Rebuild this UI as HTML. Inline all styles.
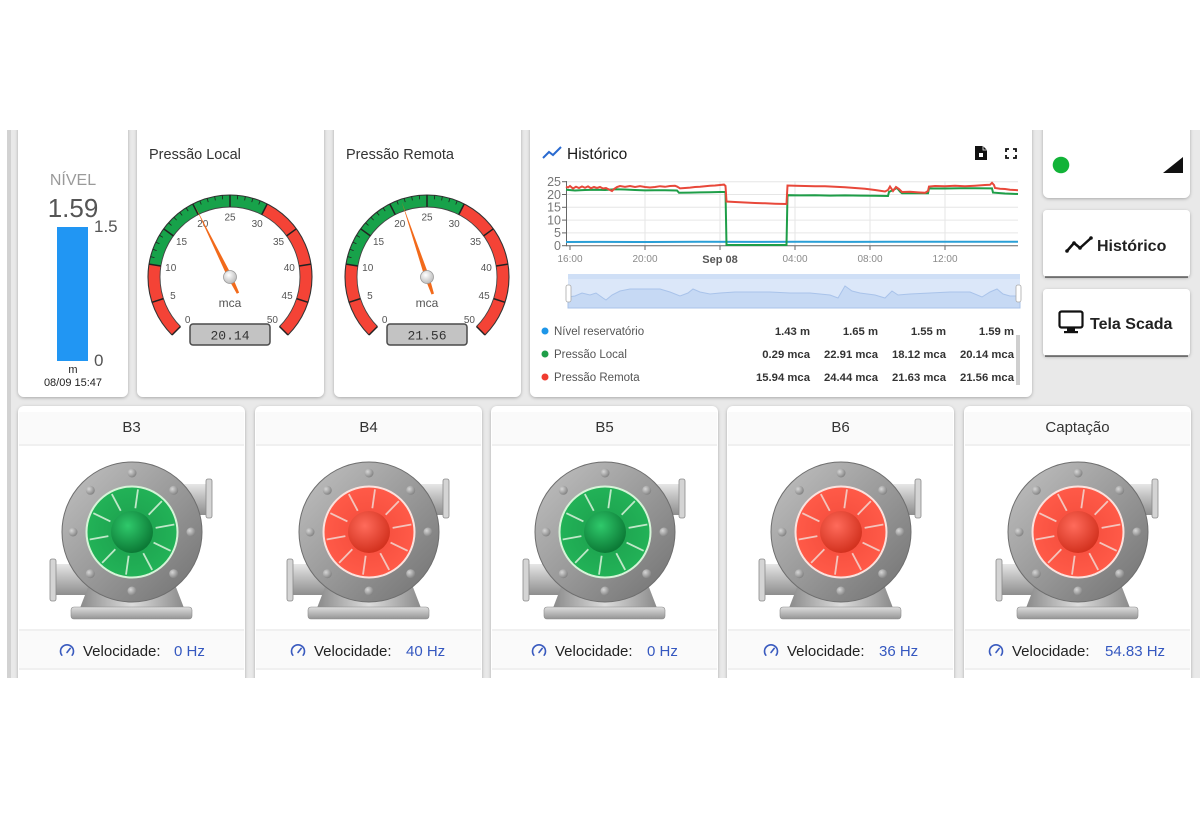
<!DOCTYPE html>
<html><head><meta charset="utf-8"><style>
html,body{margin:0;padding:0;background:#fff;width:1200px;height:815px;overflow:hidden}
svg{display:block;font-family:"Liberation Sans",sans-serif}
</style></head><body>
<svg width="1200" height="815" viewBox="0 0 1200 815" xmlns="http://www.w3.org/2000/svg">
<defs>
<filter id="sh" x="-10%" y="-10%" width="120%" height="120%"><feDropShadow dx="0" dy="1" stdDeviation="1.6" flood-color="#000" flood-opacity="0.28"/></filter>
<linearGradient id="ring" x1="0" y1="0" x2="1" y2="1"><stop offset="0" stop-color="#c2c2c2"/><stop offset="0.5" stop-color="#9a9a9a"/><stop offset="1" stop-color="#707070"/></linearGradient>
<linearGradient id="pipeH" x1="0" y1="0" x2="0" y2="1"><stop offset="0" stop-color="#e6e6e6"/><stop offset="0.45" stop-color="#bdbdbd"/><stop offset="1" stop-color="#8e8e8e"/></linearGradient>
<linearGradient id="ped" x1="0" y1="0" x2="1" y2="0"><stop offset="0" stop-color="#8a8a8a"/><stop offset="0.5" stop-color="#dcdcdc"/><stop offset="1" stop-color="#8a8a8a"/></linearGradient>
<linearGradient id="base" x1="0" y1="0" x2="0" y2="1"><stop offset="0" stop-color="#dedede"/><stop offset="1" stop-color="#949494"/></linearGradient>
<radialGradient id="bolt" cx="0.35" cy="0.35" r="0.7"><stop offset="0" stop-color="#d6d6d6"/><stop offset="1" stop-color="#808080"/></radialGradient>
<radialGradient id="gIn" cx="0.5" cy="0.5" r="0.5"><stop offset="0" stop-color="#1c9e4d"/><stop offset="1" stop-color="#22b257"/></radialGradient>
<radialGradient id="gHub" cx="0.4" cy="0.35" r="0.65"><stop offset="0" stop-color="#2fc96b"/><stop offset="1" stop-color="#0c7a36"/></radialGradient>
<radialGradient id="rIn" cx="0.5" cy="0.5" r="0.5"><stop offset="0" stop-color="#f24a3a"/><stop offset="1" stop-color="#ff5a48"/></radialGradient>
<radialGradient id="rHub" cx="0.4" cy="0.35" r="0.65"><stop offset="0" stop-color="#ff6b5b"/><stop offset="1" stop-color="#d3321f"/></radialGradient>
<radialGradient id="hub" cx="0.4" cy="0.35" r="0.7"><stop offset="0" stop-color="#ffffff"/><stop offset="1" stop-color="#b8b8b8"/></radialGradient>

<g id="pumpBody">
  <rect x="-78" y="32" width="44" height="31" fill="url(#pipeH)"/>
  <rect x="-82" y="27" width="6" height="42" rx="2" fill="#d4d4d4" stroke="#8a8a8a" stroke-width="0.8"/>
  <rect x="36" y="-48" width="40" height="31" fill="url(#pipeH)"/>
  <rect x="74" y="-53" width="6" height="39" rx="2" fill="#d4d4d4" stroke="#8a8a8a" stroke-width="0.8"/>
  <path d="M-42,50 L42,50 L52,76 L-52,76 Z" fill="url(#ped)"/>
  <rect x="-61" y="75" width="121" height="12" rx="3" fill="url(#base)" stroke="#8c8c8c" stroke-width="0.6"/>
  <circle r="70" fill="url(#ring)" stroke="#6e6e6e" stroke-width="1"/>
  <circle cx="0" cy="-59" r="4.5" fill="url(#bolt)"/>
  <circle cx="41.7" cy="-41.7" r="4.5" fill="url(#bolt)"/>
  <circle cx="59" cy="0" r="4.5" fill="url(#bolt)"/>
  <circle cx="41.7" cy="41.7" r="4.5" fill="url(#bolt)"/>
  <circle cx="0" cy="59" r="4.5" fill="url(#bolt)"/>
  <circle cx="-41.7" cy="41.7" r="4.5" fill="url(#bolt)"/>
  <circle cx="-59" cy="0" r="4.5" fill="url(#bolt)"/>
  <circle cx="-41.7" cy="-41.7" r="4.5" fill="url(#bolt)"/>
</g>
<g id="blades">
  <line x1="0" y1="-24" x2="0" y2="-43" transform="rotate(8)"/>
  <line x1="0" y1="-24" x2="0" y2="-43" transform="rotate(44)"/>
  <line x1="0" y1="-24" x2="0" y2="-43" transform="rotate(80)"/>
  <line x1="0" y1="-24" x2="0" y2="-43" transform="rotate(116)"/>
  <line x1="0" y1="-24" x2="0" y2="-43" transform="rotate(152)"/>
  <line x1="0" y1="-24" x2="0" y2="-43" transform="rotate(188)"/>
  <line x1="0" y1="-24" x2="0" y2="-43" transform="rotate(224)"/>
  <line x1="0" y1="-24" x2="0" y2="-43" transform="rotate(260)"/>
  <line x1="0" y1="-24" x2="0" y2="-43" transform="rotate(296)"/>
  <line x1="0" y1="-24" x2="0" y2="-43" transform="rotate(332)"/>
</g>
<g id="innerG">
  <circle r="46.5" fill="#d6f4d8"/>
  <circle r="44.5" fill="url(#gIn)"/>
  <g stroke="#bfe8c8" stroke-width="1.8"><use href="#blades"/></g>
  <circle r="21" fill="url(#gHub)"/>
</g>
<g id="innerR">
  <circle r="46.5" fill="#fbe2de"/>
  <circle r="44.5" fill="url(#rIn)"/>
  <g stroke="#f4c4bc" stroke-width="1.8"><use href="#blades"/></g>
  <circle r="21" fill="url(#rHub)"/>
</g>
<g id="speedIco" fill="none" stroke="#3a5bbf" stroke-width="1.6" stroke-linecap="round">
  <path d="M-5.2,4.2 A6.5,6.5 0 1 1 5.2,4.2"/>
  <line x1="0" y1="1.5" x2="3.2" y2="-2.6"/>
</g>
<g id="gaugeBase">
  <circle r="76" fill="none" stroke="#f44336" stroke-width="12" stroke-dasharray="71.62 1000" transform="rotate(135)"/>
  <circle r="76" fill="none" stroke="#17a24a" stroke-width="12" stroke-dasharray="143.25 1000" transform="rotate(189)"/>
  <circle r="76" fill="none" stroke="#f44336" stroke-width="12" stroke-dasharray="143.25 1000" transform="rotate(297)"/>
  <circle r="82" fill="none" stroke="#333" stroke-width="1.1" stroke-dasharray="386.4 1000" transform="rotate(135)"/>
  <circle r="70" fill="none" stroke="#444" stroke-width="0.9" stroke-dasharray="329.9 1000" transform="rotate(135)"/>
  <g stroke="#222" stroke-width="1.5">
    <line y1="-70" y2="-82" transform="rotate(-135)"/><line y1="-70" y2="-82" transform="rotate(-108)"/>
    <line y1="-70" y2="-82" transform="rotate(-81)"/><line y1="-70" y2="-82" transform="rotate(-54)"/>
    <line y1="-70" y2="-82" transform="rotate(-27)"/><line y1="-70" y2="-82" transform="rotate(0)"/>
    <line y1="-70" y2="-82" transform="rotate(27)"/><line y1="-70" y2="-82" transform="rotate(54)"/>
    <line y1="-70" y2="-82" transform="rotate(81)"/><line y1="-70" y2="-82" transform="rotate(108)"/>
    <line y1="-70" y2="-82" transform="rotate(135)"/>
  </g>
  <g stroke="#222" stroke-width="0.8">
    <line y1="-78" y2="-82" transform="rotate(-75.6)"/><line y1="-78" y2="-82" transform="rotate(-70.2)"/>
    <line y1="-78" y2="-82" transform="rotate(-64.8)"/><line y1="-78" y2="-82" transform="rotate(-59.4)"/>
    <line y1="-78" y2="-82" transform="rotate(-48.6)"/><line y1="-78" y2="-82" transform="rotate(-43.2)"/>
    <line y1="-78" y2="-82" transform="rotate(-37.8)"/><line y1="-78" y2="-82" transform="rotate(-32.4)"/>
    <line y1="-78" y2="-82" transform="rotate(-21.6)"/><line y1="-78" y2="-82" transform="rotate(-16.2)"/>
    <line y1="-78" y2="-82" transform="rotate(-10.8)"/><line y1="-78" y2="-82" transform="rotate(-5.4)"/>
    <line y1="-78" y2="-82" transform="rotate(5.4)"/><line y1="-78" y2="-82" transform="rotate(10.8)"/>
    <line y1="-78" y2="-82" transform="rotate(16.2)"/><line y1="-78" y2="-82" transform="rotate(21.6)"/>
  </g>
  <rect x="-40" y="47" width="80" height="21" rx="3" fill="#c3c3c3" stroke="#4a4a4a" stroke-width="1.5"/>
</g>
</defs>

<!-- background -->
<rect x="0" y="0" width="1200" height="815" fill="#ffffff"/>
<rect x="8" y="128" width="1192" height="552" fill="#e9e9e9"/>
<rect x="7" y="128" width="4" height="550" fill="#d2d2d2"/>

<!-- top row cards -->
<g filter="url(#sh)" fill="#fff">
  <rect x="18" y="118" width="110" height="279" rx="6"/>
  <rect x="137" y="118" width="187" height="279" rx="6"/>
  <rect x="334" y="118" width="187" height="279" rx="6"/>
  <rect x="530" y="118" width="502" height="279" rx="6"/>
  <rect x="1043" y="118" width="147" height="80" rx="6"/>
  <rect x="1043" y="210" width="147" height="67" rx="4"/>
  <rect x="1043" y="289" width="147" height="67" rx="4"/>
</g>
<line x1="1045" y1="277" x2="1188" y2="277" stroke="#3a3a3a" stroke-width="1.2"/>
<line x1="1045" y1="356" x2="1188" y2="356" stroke="#3a3a3a" stroke-width="1.2"/>

<!-- bottom row cards -->
<g filter="url(#sh)" fill="#fff">
  <rect x="18" y="406" width="227" height="290" rx="6"/>
  <rect x="255" y="406" width="227" height="290" rx="6"/>
  <rect x="491" y="406" width="227" height="290" rx="6"/>
  <rect x="727" y="406" width="227" height="290" rx="6"/>
  <rect x="964" y="406" width="227" height="290" rx="6"/>
</g>
<g fill="#fafafa">
  <rect x="19" y="412" width="225" height="33"/><rect x="256" y="412" width="225" height="33"/>
  <rect x="492" y="412" width="225" height="33"/><rect x="728" y="412" width="225" height="33"/>
  <rect x="965" y="412" width="225" height="33"/>
  <rect x="19" y="631" width="225" height="38"/><rect x="256" y="631" width="225" height="38"/>
  <rect x="492" y="631" width="225" height="38"/><rect x="728" y="631" width="225" height="38"/>
  <rect x="965" y="631" width="225" height="38"/>
</g>
<g stroke="#ececec" stroke-width="1.5">
  <line x1="19" y1="445" x2="244" y2="445"/><line x1="256" y1="445" x2="481" y2="445"/>
  <line x1="492" y1="445" x2="717" y2="445"/><line x1="728" y1="445" x2="953" y2="445"/>
  <line x1="965" y1="445" x2="1190" y2="445"/>
  <line x1="19" y1="630" x2="244" y2="630"/><line x1="256" y1="630" x2="481" y2="630"/>
  <line x1="492" y1="630" x2="717" y2="630"/><line x1="728" y1="630" x2="953" y2="630"/>
  <line x1="965" y1="630" x2="1190" y2="630"/>
  <line x1="19" y1="669" x2="244" y2="669"/><line x1="256" y1="669" x2="481" y2="669"/>
  <line x1="492" y1="669" x2="717" y2="669"/><line x1="728" y1="669" x2="953" y2="669"/>
  <line x1="965" y1="669" x2="1190" y2="669"/>
</g>

<!-- mask top and bottom -->
<rect x="0" y="0" width="1200" height="130" fill="#ffffff"/>
<rect x="0" y="678" width="1200" height="137" fill="#ffffff"/>

<!-- Nível card -->
<text x="73" y="185" font-size="16" fill="#9a9a9a" text-anchor="middle">NÍVEL</text>
<text x="73" y="217" font-size="26" fill="#555" text-anchor="middle">1.59</text>
<rect x="57" y="227" width="31" height="134" fill="#2196f3"/>
<text x="94" y="232" font-size="17" fill="#555">1.5</text>
<text x="94" y="366" font-size="17" fill="#555">0</text>
<text x="73" y="373" font-size="11" fill="#222" text-anchor="middle">m</text>
<text x="73" y="386" font-size="11" fill="#222" text-anchor="middle">08/09 15:47</text>

<!-- Pressão Local -->
<text x="149" y="159" font-size="14.5" fill="#333">Pressão Local</text>
<g transform="translate(230,277)">
  <use href="#gaugeBase"/>
  <g font-size="10" fill="#555" text-anchor="middle">
    <text x="-42.4" y="45.9">0</text><text x="-57.1" y="22">5</text><text x="-59.3" y="-5.9">10</text>
    <text x="-48.5" y="-31.8">15</text><text x="-27.2" y="-50">20</text><text x="0" y="-56.5">25</text>
    <text x="27.2" y="-50">30</text><text x="48.5" y="-31.8">35</text><text x="59.3" y="-5.9">40</text>
    <text x="57.1" y="22">45</text><text x="42.4" y="45.9">50</text>
  </g>
  <text x="0" y="30" font-size="12" fill="#555" text-anchor="middle">mca</text>
  <text x="0" y="62.5" font-size="13" fill="#333" text-anchor="middle" font-family="Liberation Mono, monospace">20.14</text>
  <polygon points="-2.3,0 0,-79 2.3,0 1.3,18 -1.3,18" fill="#f26a1b" transform="rotate(-26.24)"/>
  <circle r="6.5" fill="url(#hub)" stroke="#999" stroke-width="0.8"/>
</g>

<!-- Pressão Remota -->
<text x="346" y="159" font-size="14.5" fill="#333">Pressão Remota</text>
<g transform="translate(427,277)">
  <use href="#gaugeBase"/>
  <g font-size="10" fill="#555" text-anchor="middle">
    <text x="-42.4" y="45.9">0</text><text x="-57.1" y="22">5</text><text x="-59.3" y="-5.9">10</text>
    <text x="-48.5" y="-31.8">15</text><text x="-27.2" y="-50">20</text><text x="0" y="-56.5">25</text>
    <text x="27.2" y="-50">30</text><text x="48.5" y="-31.8">35</text><text x="59.3" y="-5.9">40</text>
    <text x="57.1" y="22">45</text><text x="42.4" y="45.9">50</text>
  </g>
  <text x="0" y="30" font-size="12" fill="#555" text-anchor="middle">mca</text>
  <text x="0" y="62.5" font-size="13" fill="#333" text-anchor="middle" font-family="Liberation Mono, monospace">21.56</text>
  <polygon points="-2.3,0 0,-79 2.3,0 1.3,18 -1.3,18" fill="#f26a1b" transform="rotate(-18.58)"/>
  <circle r="6.5" fill="url(#hub)" stroke="#999" stroke-width="0.8"/>
</g>

<!-- Histórico chart card -->
<polyline points="543,158 549,152 553,155 561,147" fill="none" stroke="#2a6ad0" stroke-width="2"/>
<text x="567" y="159" font-size="15.5" fill="#1a1a1a">Histórico</text>
<path d="M975,146 h8 l4,4 v10 h-12 z" fill="#111"/>
<path d="M983,146 v4 h4" fill="none" stroke="#fff" stroke-width="0.8"/>
<rect x="979" y="153" width="4" height="4" fill="#fff"/>
<g fill="none" stroke="#111" stroke-width="1.8">
  <path d="M1006,152 v-3 h3"/><path d="M1013,149 h3 v3"/><path d="M1016,155 v3 h-3"/><path d="M1009,158 h-3 v-3"/>
</g>
<g stroke="#e6e6e6" stroke-width="1">
  <line x1="567" y1="181.7" x2="1018" y2="181.7"/><line x1="567" y1="194.5" x2="1018" y2="194.5"/>
  <line x1="567" y1="207.3" x2="1018" y2="207.3"/><line x1="567" y1="220.1" x2="1018" y2="220.1"/>
  <line x1="567" y1="232.9" x2="1018" y2="232.9"/>
  <line x1="645" y1="181" x2="645" y2="246"/><line x1="720" y1="181" x2="720" y2="246"/>
  <line x1="795" y1="181" x2="795" y2="246"/><line x1="870" y1="181" x2="870" y2="246"/>
  <line x1="945" y1="181" x2="945" y2="246"/>
</g>
<g stroke="#666" stroke-width="1">
  <line x1="566.5" y1="181" x2="566.5" y2="246"/>
  <line x1="566" y1="245.7" x2="1018" y2="245.7"/>
  <line x1="562" y1="181.7" x2="567" y2="181.7"/><line x1="562" y1="194.5" x2="567" y2="194.5"/>
  <line x1="562" y1="207.3" x2="567" y2="207.3"/><line x1="562" y1="220.1" x2="567" y2="220.1"/>
  <line x1="562" y1="232.9" x2="567" y2="232.9"/><line x1="562" y1="245.7" x2="567" y2="245.7"/>
  <line x1="570" y1="246" x2="570" y2="250"/><line x1="645" y1="246" x2="645" y2="250"/>
  <line x1="720" y1="246" x2="720" y2="250"/><line x1="795" y1="246" x2="795" y2="250"/>
  <line x1="870" y1="246" x2="870" y2="250"/><line x1="945" y1="246" x2="945" y2="250"/>
</g>
<g font-size="12.5" fill="#777" text-anchor="end">
  <text x="561" y="186">25</text><text x="561" y="198.8">20</text><text x="561" y="211.6">15</text>
  <text x="561" y="224.4">10</text><text x="561" y="237.2">5</text><text x="561" y="250">0</text>
</g>
<g font-size="10" fill="#8a8a8a" text-anchor="middle">
  <text x="570" y="262">16:00</text><text x="645" y="262">20:00</text>
  <text x="795" y="262">04:00</text><text x="870" y="262">08:00</text><text x="945" y="262">12:00</text>
</g>
<text x="720" y="263" font-size="11" font-weight="bold" fill="#555" text-anchor="middle">Sep 08</text>
<polyline fill="none" stroke="#2a9fd6" stroke-width="2" points="566,242 600,241.9 650,242 700,241.8 750,241.9 800,241.8 850,241.9 900,241.7 950,241.8 1000,241.7 1018,241.8"/>
<polyline fill="none" stroke="#1e9e48" stroke-width="2" points="566,189.8 575,190.5 585,190 595,189.7 605,190 615,189.2 625,189.5 635,190 645,190.4 655,190.2 665,190.3 677,190.5 679,192.8 690,192.6 700,192.4 710,192.2 720,192 725.5,192 726.5,245 786.5,245 787.5,195.2 800,195.4 815,195.3 830,195.6 845,195.4 860,195.6 875,195.8 888,196 889,192 893,190 897,188 900,191.5 902,193.2 915,193.3 928,193.2 929,188.5 945,188.5 960,188.3 975,188.2 990,188.4 992,188.4 993,192.6 1005,193.5 1018,194"/>
<polyline fill="none" stroke="#e8483a" stroke-width="2" points="566,186.5 568,187.5 570,186 573,188.5 576,186.7 579,188 582,186.5 585,187.8 588,186.4 591,188.2 594,187 597,188 600,187 603,188.5 606,188 609,189.5 612,191 614,189 617,187 620,186 625,186.8 630,186 635,187 640,186.2 645,187 650,187.5 655,187 660,186.2 665,186.8 670,186 675,185.8 677,186.5 680,188.4 685,188 690,187.6 695,187 700,186.7 705,186.2 710,185.8 715,185.5 720,185 724,184.6 725.5,186 726.5,201.5 735,202 745,202.5 755,203 765,203.3 775,203.7 786.5,204 787.5,185.5 795,185.8 805,186 815,186.2 825,186.3 835,186.7 845,187.3 855,188 865,188.7 875,190 885,191.5 888,190 890,186.5 893,191 896,187 899,189 902,192 910,191.8 918,192.4 925,192.8 928,191 929,186.5 935,186 945,186.3 955,185.8 965,186.2 975,185.7 985,185 990,184.8 992,182.8 994,185 995,188 1000,188.7 1005,189 1010,189.7 1018,190.2"/>
<rect x="568" y="274" width="452" height="34" fill="#dbe7f9"/>
<rect x="568" y="274" width="452" height="5" fill="#cfdff6"/>
<path d="M568,297 L575,296 582,293 590,295 596,293 603,298 606,300 612,295 620,291 630,289 645,289 660,289 670,292 680,296 688,293 693,289 700,292 710,294 720,293 735,292 750,292 770,292 790,293 810,293 830,295 838,298 845,286 852,291 860,293 875,295 885,298 892,291 898,295 910,294 930,293 950,292 970,292 982,297 990,292 997,289 1003,294 1010,296 1020,296 L1020,308 L568,308 Z" fill="#c6d9f4" stroke="#a9c3ea" stroke-width="1"/>
<rect x="566" y="285" width="5" height="17" rx="2" fill="#fff" stroke="#aaa" stroke-width="0.8"/>
<rect x="1016" y="285" width="5" height="17" rx="2" fill="#fff" stroke="#aaa" stroke-width="0.8"/>
<circle cx="545" cy="331" r="3.5" fill="#1e96e8"/>
<circle cx="545" cy="354" r="3.5" fill="#1e9e48"/>
<circle cx="545" cy="377" r="3.5" fill="#f03c30"/>
<g font-size="11.5" fill="#555">
  <text x="554" y="335">Nível reservatório</text>
  <text x="554" y="358">Pressão Local</text>
  <text x="554" y="381">Pressão Remota</text>
</g>
<g font-size="11.3" fill="#333" text-anchor="end" font-weight="bold">
  <text x="810" y="335">1.43 m</text><text x="878" y="335">1.65 m</text><text x="946" y="335">1.55 m</text><text x="1014" y="335">1.59 m</text>
  <text x="810" y="358">0.29 mca</text><text x="878" y="358">22.91 mca</text><text x="946" y="358">18.12 mca</text><text x="1014" y="358">20.14 mca</text>
  <text x="810" y="381">15.94 mca</text><text x="878" y="381">24.44 mca</text><text x="946" y="381">21.63 mca</text><text x="1014" y="381">21.56 mca</text>
</g>
<rect x="1016" y="335" width="4" height="50" fill="#cfcfcf"/>

<!-- right panel -->
<circle cx="1061" cy="165" r="8.3" fill="#12b338"/>
<polygon points="1183,157 1183,173 1163,173" fill="#111"/>
<g fill="none" stroke="#111" stroke-width="2.5" stroke-linejoin="round">
  <polyline points="1067,251 1074,243 1080,248 1091,238"/>
</g>
<g fill="#111"><circle cx="1067" cy="251" r="1.8"/><circle cx="1074" cy="243" r="1.8"/><circle cx="1080" cy="248" r="1.8"/><circle cx="1091" cy="238" r="1.8"/></g>
<text x="1097" y="251" font-size="16" font-weight="bold" fill="#222">Histórico</text>
<rect x="1059.5" y="311.5" width="23" height="16" rx="2" fill="none" stroke="#111" stroke-width="2.2"/>
<rect x="1067" y="328" width="8" height="3" fill="#111"/>
<rect x="1064" y="331" width="14" height="2.2" fill="#111"/>
<text x="1090" y="329" font-size="16" font-weight="bold" fill="#222">Tela Scada</text>

<!-- pumps -->
<g font-size="15" fill="#333" text-anchor="middle">
  <text x="131.5" y="432">B3</text>
  <text x="368.5" y="432">B4</text>
  <text x="604.5" y="432">B5</text>
  <text x="840.5" y="432">B6</text>
  <text x="1077.5" y="432">Captação</text>
</g>
<g transform="translate(132,532)"><use href="#pumpBody"/><use href="#innerG"/></g>
<g transform="translate(369,532)"><use href="#pumpBody"/><use href="#innerR"/></g>
<g transform="translate(605,532)"><use href="#pumpBody"/><use href="#innerG"/></g>
<g transform="translate(841,532)"><use href="#pumpBody"/><use href="#innerR"/></g>
<g transform="translate(1078,532)"><use href="#pumpBody"/><use href="#innerR"/></g>

<use href="#speedIco" x="67" y="651"/>
<use href="#speedIco" x="298" y="651"/>
<use href="#speedIco" x="539" y="651"/>
<use href="#speedIco" x="771" y="651"/>
<use href="#speedIco" x="996" y="651"/>
<g font-size="15" fill="#222">
  <text x="83" y="656">Velocidade:</text>
  <text x="314" y="656">Velocidade:</text>
  <text x="555" y="656">Velocidade:</text>
  <text x="787" y="656">Velocidade:</text>
  <text x="1012" y="656">Velocidade:</text>
</g>
<g font-size="15" fill="#3558c0">
  <text x="174" y="656">0 Hz</text>
  <text x="406" y="656">40 Hz</text>
  <text x="647" y="656">0 Hz</text>
  <text x="879" y="656">36 Hz</text>
  <text x="1105" y="656">54.83 Hz</text>
</g>
</svg>
</body></html>
